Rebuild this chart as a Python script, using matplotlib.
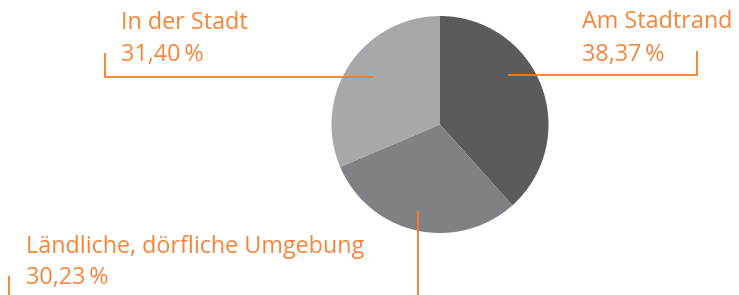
import matplotlib
matplotlib.use("Agg")
import matplotlib.pyplot as plt

# data
labels = ["Am Stadtrand", "Ländliche, dörfliche Umgebung", "In der Stadt"]
shares = [38.37, 30.23, 31.40]
colors = ["#5a5b5d", "#808184", "#a7a8ab"]
orange = "#f47d2a"

W, H = 739, 295
fig = plt.figure(figsize=(W / 100, H / 100), dpi=100)
ax = fig.add_axes([0, 0, 1, 1])

def py(y):
    # pixel row from top -> data y
    return H - y

ax.pie(shares, colors=colors, startangle=90, counterclock=False,
       center=(440, py(124.5)), radius=108.5, frame=True,
       wedgeprops=dict(linewidth=0))
ax.set_xlim(0, W)
ax.set_ylim(0, H)
ax.set_aspect("equal")
ax.axis("off")

def pct(v):
    return f"{v:.2f}".replace(".", ",") + "\u2009%"

font = dict(family="Open Sans", fontsize=16.8, color="#f5853a")

# In der Stadt
ax.text(121, py(29), labels[2], va="baseline", **font)
ax.text(121, py(61), pct(shares[2]), va="baseline", **font)
ax.plot([105, 105, 373], [py(54), py(77), py(77)], color=orange, lw=1.3)

# Am Stadtrand
ax.text(582, py(28), labels[0], va="baseline", **font)
ax.text(582, py(61), pct(shares[0]), va="baseline", **font)
ax.plot([509, 697, 697], [py(75), py(75), py(52)], color=orange, lw=1.3)

# Ländliche
ax.text(26, py(253), labels[1], va="baseline", **font)
ax.text(26, py(284), pct(shares[1]), va="baseline", **font)
ax.plot([418, 418], [py(212), py(295)], color=orange, lw=1.3)
ax.plot([9, 9], [py(277), py(295)], color=orange, lw=1.3)

fig.savefig("out.png", dpi=100)
